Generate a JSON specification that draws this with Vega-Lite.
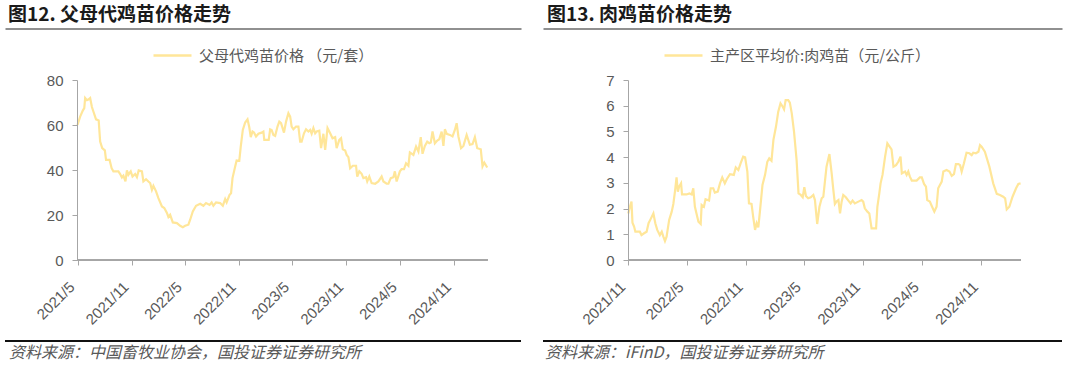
{
  "$schema": "https://vega.github.io/schema/vega-lite/v6.json",
  "padding": 5,
  "config": {
    "view": {"stroke": null},
    "font": "Liberation Sans",
    "axis": {"grid": false, "title": null}
  },
  "datasets": {
    "left": [
      {"date": "2021/05/01", "value": 60.0}, {"date": "2021/05/10", "value": 63.7}, {"date": "2021/05/19", "value": 66.4}, {"date": "2021/05/24", "value": 67.5}, {"date": "2021/05/27", "value": 72.0}, {"date": "2021/06/02", "value": 71.0}, {"date": "2021/06/07", "value": 71.3}, {"date": "2021/06/13", "value": 72.0}, {"date": "2021/06/19", "value": 68.0}, {"date": "2021/06/24", "value": 66.0}, {"date": "2021/07/03", "value": 62.5}, {"date": "2021/07/12", "value": 62.0}, {"date": "2021/07/17", "value": 52.6}, {"date": "2021/07/24", "value": 49.7}, {"date": "2021/08/02", "value": 48.7}, {"date": "2021/08/06", "value": 44.5}, {"date": "2021/08/18", "value": 44.5}, {"date": "2021/08/25", "value": 40.8}, {"date": "2021/08/31", "value": 39.4}, {"date": "2021/09/17", "value": 39.4}, {"date": "2021/09/23", "value": 38.2}, {"date": "2021/09/29", "value": 36.7}, {"date": "2021/10/04", "value": 37.5}, {"date": "2021/10/11", "value": 34.9}, {"date": "2021/10/16", "value": 39.8}, {"date": "2021/10/21", "value": 37.9}, {"date": "2021/10/29", "value": 39.4}, {"date": "2021/11/04", "value": 37.1}, {"date": "2021/11/13", "value": 38.2}, {"date": "2021/11/19", "value": 36.8}, {"date": "2021/11/25", "value": 39.8}, {"date": "2021/12/06", "value": 39.4}, {"date": "2021/12/11", "value": 34.9}, {"date": "2021/12/20", "value": 35.9}, {"date": "2021/12/28", "value": 34.9},
      {"date": "2022/01/03", "value": 34.2}, {"date": "2022/01/09", "value": 31.2}, {"date": "2022/01/14", "value": 33.0}, {"date": "2022/01/23", "value": 30.5}, {"date": "2022/01/31", "value": 27.5}, {"date": "2022/02/12", "value": 23.8}, {"date": "2022/02/20", "value": 23.1}, {"date": "2022/03/01", "value": 20.9}, {"date": "2022/03/06", "value": 19.1}, {"date": "2022/03/12", "value": 20.1}, {"date": "2022/03/21", "value": 16.7}, {"date": "2022/04/04", "value": 16.4}, {"date": "2022/04/15", "value": 15.2}, {"date": "2022/04/24", "value": 14.6}, {"date": "2022/05/02", "value": 15.2}, {"date": "2022/05/13", "value": 15.7}, {"date": "2022/05/19", "value": 17.9}, {"date": "2022/05/28", "value": 21.6}, {"date": "2022/06/08", "value": 24.1}, {"date": "2022/06/22", "value": 25.0}, {"date": "2022/07/03", "value": 24.1}, {"date": "2022/07/12", "value": 25.3}, {"date": "2022/07/24", "value": 24.5}, {"date": "2022/07/31", "value": 25.6}, {"date": "2022/08/06", "value": 24.1}, {"date": "2022/08/15", "value": 25.6}, {"date": "2022/08/29", "value": 25.3}, {"date": "2022/09/07", "value": 24.1}, {"date": "2022/09/15", "value": 27.1}, {"date": "2022/09/20", "value": 25.6}, {"date": "2022/09/30", "value": 29.0}, {"date": "2022/10/05", "value": 29.7}, {"date": "2022/10/10", "value": 36.4}, {"date": "2022/10/19", "value": 41.6}, {"date": "2022/10/24", "value": 44.2}, {"date": "2022/11/02", "value": 44.1}, {"date": "2022/11/07", "value": 50.4}, {"date": "2022/11/14", "value": 57.8}, {"date": "2022/11/22", "value": 61.1}, {"date": "2022/11/30", "value": 62.5}, {"date": "2022/12/06", "value": 59.0}, {"date": "2022/12/11", "value": 54.6}, {"date": "2022/12/17", "value": 57.1}, {"date": "2022/12/22", "value": 56.7}, {"date": "2022/12/29", "value": 54.9},
      {"date": "2023/01/06", "value": 56.1}, {"date": "2023/01/17", "value": 56.6}, {"date": "2023/01/23", "value": 57.1}, {"date": "2023/01/26", "value": 53.4}, {"date": "2023/02/03", "value": 53.4}, {"date": "2023/02/10", "value": 53.4}, {"date": "2023/02/15", "value": 58.1}, {"date": "2023/02/20", "value": 57.8}, {"date": "2023/02/26", "value": 55.6}, {"date": "2023/03/04", "value": 55.2}, {"date": "2023/03/12", "value": 59.3}, {"date": "2023/03/18", "value": 61.5}, {"date": "2023/03/24", "value": 60.8}, {"date": "2023/04/03", "value": 56.6}, {"date": "2023/04/10", "value": 61.5}, {"date": "2023/04/18", "value": 65.2}, {"date": "2023/04/24", "value": 63.7}, {"date": "2023/04/29", "value": 59.3}, {"date": "2023/05/05", "value": 58.1}, {"date": "2023/05/14", "value": 59.3}, {"date": "2023/05/22", "value": 59.3}, {"date": "2023/05/28", "value": 52.6}, {"date": "2023/06/02", "value": 52.6}, {"date": "2023/06/10", "value": 56.3}, {"date": "2023/06/17", "value": 58.1}, {"date": "2023/06/25", "value": 57.1}, {"date": "2023/07/01", "value": 57.8}, {"date": "2023/07/06", "value": 56.1}, {"date": "2023/07/12", "value": 58.6}, {"date": "2023/07/18", "value": 56.3}, {"date": "2023/07/23", "value": 57.1}, {"date": "2023/08/01", "value": 57.5}, {"date": "2023/08/07", "value": 49.7}, {"date": "2023/08/15", "value": 56.1}, {"date": "2023/08/21", "value": 48.9}, {"date": "2023/08/29", "value": 58.6}, {"date": "2023/09/07", "value": 56.3}, {"date": "2023/09/15", "value": 54.1}, {"date": "2023/09/24", "value": 54.6}, {"date": "2023/09/29", "value": 49.7}, {"date": "2023/10/08", "value": 53.4}, {"date": "2023/10/14", "value": 54.1}, {"date": "2023/10/20", "value": 49.2}, {"date": "2023/10/28", "value": 48.7}, {"date": "2023/11/02", "value": 46.7}, {"date": "2023/11/08", "value": 45.7}, {"date": "2023/11/14", "value": 40.8}, {"date": "2023/11/23", "value": 41.9}, {"date": "2023/12/04", "value": 41.9}, {"date": "2023/12/08", "value": 37.1}, {"date": "2023/12/15", "value": 39.4}, {"date": "2023/12/23", "value": 38.3}, {"date": "2023/12/29", "value": 36.4},
      {"date": "2024/01/07", "value": 36.8}, {"date": "2024/01/11", "value": 34.9}, {"date": "2024/01/18", "value": 37.1}, {"date": "2024/01/26", "value": 34.2}, {"date": "2024/02/07", "value": 33.9}, {"date": "2024/02/18", "value": 34.9}, {"date": "2024/02/29", "value": 37.1}, {"date": "2024/03/06", "value": 34.9}, {"date": "2024/03/17", "value": 33.9}, {"date": "2024/03/23", "value": 33.9}, {"date": "2024/03/31", "value": 36.4}, {"date": "2024/04/09", "value": 36.8}, {"date": "2024/04/14", "value": 39.4}, {"date": "2024/04/20", "value": 34.9}, {"date": "2024/05/01", "value": 39.4}, {"date": "2024/05/07", "value": 40.4}, {"date": "2024/05/15", "value": 40.4}, {"date": "2024/05/22", "value": 43.0}, {"date": "2024/05/30", "value": 41.9}, {"date": "2024/06/04", "value": 47.8}, {"date": "2024/06/16", "value": 46.7}, {"date": "2024/06/25", "value": 50.4}, {"date": "2024/07/03", "value": 48.2}, {"date": "2024/07/11", "value": 54.6}, {"date": "2024/07/17", "value": 47.2}, {"date": "2024/07/25", "value": 50.7}, {"date": "2024/08/02", "value": 52.6}, {"date": "2024/08/09", "value": 51.9}, {"date": "2024/08/14", "value": 52.2}, {"date": "2024/08/20", "value": 57.1}, {"date": "2024/08/28", "value": 51.9}, {"date": "2024/09/05", "value": 53.1}, {"date": "2024/09/12", "value": 53.7}, {"date": "2024/09/20", "value": 57.1}, {"date": "2024/09/26", "value": 50.7}, {"date": "2024/10/01", "value": 58.1}, {"date": "2024/10/07", "value": 56.1}, {"date": "2024/10/18", "value": 55.6}, {"date": "2024/10/27", "value": 54.9}, {"date": "2024/11/04", "value": 57.8}, {"date": "2024/11/10", "value": 60.8}, {"date": "2024/11/16", "value": 54.9}, {"date": "2024/11/25", "value": 49.7}, {"date": "2024/12/03", "value": 50.7}, {"date": "2024/12/14", "value": 55.6}, {"date": "2024/12/25", "value": 51.2},
      {"date": "2025/01/03", "value": 51.5}, {"date": "2025/01/11", "value": 54.6}, {"date": "2025/01/19", "value": 49.7}, {"date": "2025/01/31", "value": 49.2}, {"date": "2025/02/06", "value": 41.6}, {"date": "2025/02/12", "value": 43.3}, {"date": "2025/02/22", "value": 41.1}
    ],
    "right": [
      {"date": "2021/11/01", "value": 1.81}, {"date": "2021/11/06", "value": 2.07}, {"date": "2021/11/11", "value": 2.27}, {"date": "2021/11/14", "value": 1.45}, {"date": "2021/11/19", "value": 1.30}, {"date": "2021/11/23", "value": 1.10}, {"date": "2021/12/02", "value": 1.10}, {"date": "2021/12/07", "value": 1.10}, {"date": "2021/12/12", "value": 0.97}, {"date": "2021/12/20", "value": 1.04}, {"date": "2021/12/28", "value": 1.10},
      {"date": "2022/01/03", "value": 1.43}, {"date": "2022/01/09", "value": 1.58}, {"date": "2022/01/18", "value": 1.81}, {"date": "2022/01/24", "value": 1.43}, {"date": "2022/01/30", "value": 1.17}, {"date": "2022/02/07", "value": 0.97}, {"date": "2022/02/13", "value": 1.10}, {"date": "2022/02/18", "value": 0.91}, {"date": "2022/02/23", "value": 0.74}, {"date": "2022/02/28", "value": 0.91}, {"date": "2022/03/08", "value": 1.56}, {"date": "2022/03/16", "value": 1.88}, {"date": "2022/03/21", "value": 2.18}, {"date": "2022/03/26", "value": 2.66}, {"date": "2022/03/31", "value": 3.21}, {"date": "2022/04/04", "value": 2.66}, {"date": "2022/04/08", "value": 2.85}, {"date": "2022/04/14", "value": 2.98}, {"date": "2022/04/17", "value": 2.55}, {"date": "2022/05/01", "value": 2.55}, {"date": "2022/05/10", "value": 2.59}, {"date": "2022/05/17", "value": 2.55}, {"date": "2022/05/22", "value": 2.79}, {"date": "2022/05/27", "value": 2.07}, {"date": "2022/06/07", "value": 1.49}, {"date": "2022/06/14", "value": 1.40}, {"date": "2022/06/17", "value": 2.14}, {"date": "2022/06/24", "value": 2.07}, {"date": "2022/06/29", "value": 2.36}, {"date": "2022/07/10", "value": 2.31}, {"date": "2022/07/15", "value": 2.79}, {"date": "2022/07/23", "value": 2.79}, {"date": "2022/07/28", "value": 2.62}, {"date": "2022/08/06", "value": 2.66}, {"date": "2022/08/13", "value": 2.98}, {"date": "2022/08/20", "value": 3.21}, {"date": "2022/08/28", "value": 2.98}, {"date": "2022/09/03", "value": 3.14}, {"date": "2022/09/13", "value": 3.34}, {"date": "2022/09/25", "value": 3.31}, {"date": "2022/10/01", "value": 3.60}, {"date": "2022/10/09", "value": 3.50}, {"date": "2022/10/16", "value": 3.76}, {"date": "2022/10/24", "value": 4.02}, {"date": "2022/10/30", "value": 3.99}, {"date": "2022/11/06", "value": 3.44}, {"date": "2022/11/11", "value": 2.20}, {"date": "2022/11/19", "value": 2.18}, {"date": "2022/11/24", "value": 1.69}, {"date": "2022/11/30", "value": 1.17}, {"date": "2022/12/05", "value": 1.43}, {"date": "2022/12/10", "value": 1.27}, {"date": "2022/12/15", "value": 1.88}, {"date": "2022/12/23", "value": 2.92}, {"date": "2022/12/31", "value": 3.31},
      {"date": "2023/01/07", "value": 3.82}, {"date": "2023/01/13", "value": 3.95}, {"date": "2023/01/20", "value": 3.86}, {"date": "2023/01/26", "value": 4.67}, {"date": "2023/02/03", "value": 5.19}, {"date": "2023/02/10", "value": 5.77}, {"date": "2023/02/17", "value": 6.09}, {"date": "2023/02/24", "value": 5.96}, {"date": "2023/02/28", "value": 5.86}, {"date": "2023/03/05", "value": 6.22}, {"date": "2023/03/13", "value": 6.22}, {"date": "2023/03/18", "value": 6.12}, {"date": "2023/03/24", "value": 5.70}, {"date": "2023/03/31", "value": 4.99}, {"date": "2023/04/08", "value": 3.89}, {"date": "2023/04/14", "value": 2.59}, {"date": "2023/04/21", "value": 2.53}, {"date": "2023/04/27", "value": 2.44}, {"date": "2023/05/02", "value": 2.83}, {"date": "2023/05/07", "value": 2.49}, {"date": "2023/05/14", "value": 2.40}, {"date": "2023/05/22", "value": 2.44}, {"date": "2023/05/30", "value": 2.53}, {"date": "2023/06/04", "value": 2.33}, {"date": "2023/06/11", "value": 1.40}, {"date": "2023/06/18", "value": 2.07}, {"date": "2023/06/25", "value": 2.40}, {"date": "2023/06/30", "value": 2.46}, {"date": "2023/07/05", "value": 3.05}, {"date": "2023/07/10", "value": 3.63}, {"date": "2023/07/19", "value": 4.12}, {"date": "2023/07/26", "value": 3.37}, {"date": "2023/07/31", "value": 2.75}, {"date": "2023/08/05", "value": 2.18}, {"date": "2023/08/10", "value": 2.27}, {"date": "2023/08/16", "value": 2.33}, {"date": "2023/08/21", "value": 1.81}, {"date": "2023/08/26", "value": 2.27}, {"date": "2023/08/31", "value": 2.53}, {"date": "2023/09/08", "value": 2.44}, {"date": "2023/09/16", "value": 2.31}, {"date": "2023/09/23", "value": 2.20}, {"date": "2023/09/29", "value": 2.31}, {"date": "2023/10/06", "value": 2.20}, {"date": "2023/10/17", "value": 2.27}, {"date": "2023/10/27", "value": 2.33}, {"date": "2023/11/01", "value": 2.27}, {"date": "2023/11/06", "value": 2.01}, {"date": "2023/11/14", "value": 1.88}, {"date": "2023/11/20", "value": 1.81}, {"date": "2023/11/27", "value": 1.23}, {"date": "2023/12/11", "value": 1.23}, {"date": "2023/12/15", "value": 2.07}, {"date": "2023/12/21", "value": 2.59}, {"date": "2023/12/25", "value": 2.98}, {"date": "2023/12/31", "value": 3.31},
      {"date": "2024/01/08", "value": 4.02}, {"date": "2024/01/15", "value": 4.54}, {"date": "2024/01/21", "value": 4.43}, {"date": "2024/01/28", "value": 4.30}, {"date": "2024/02/03", "value": 3.63}, {"date": "2024/02/11", "value": 3.69}, {"date": "2024/02/18", "value": 3.82}, {"date": "2024/02/25", "value": 4.02}, {"date": "2024/02/29", "value": 3.37}, {"date": "2024/03/10", "value": 3.44}, {"date": "2024/03/15", "value": 3.31}, {"date": "2024/03/20", "value": 3.44}, {"date": "2024/03/25", "value": 3.24}, {"date": "2024/03/31", "value": 3.09}, {"date": "2024/04/15", "value": 3.09}, {"date": "2024/04/25", "value": 3.21}, {"date": "2024/05/01", "value": 3.21}, {"date": "2024/05/08", "value": 2.96}, {"date": "2024/05/14", "value": 2.85}, {"date": "2024/05/18", "value": 2.33}, {"date": "2024/05/26", "value": 2.27}, {"date": "2024/06/01", "value": 2.10}, {"date": "2024/06/09", "value": 1.88}, {"date": "2024/06/16", "value": 2.07}, {"date": "2024/06/21", "value": 2.79}, {"date": "2024/07/02", "value": 3.05}, {"date": "2024/07/07", "value": 3.44}, {"date": "2024/07/17", "value": 3.50}, {"date": "2024/07/26", "value": 3.44}, {"date": "2024/08/02", "value": 3.27}, {"date": "2024/08/09", "value": 3.34}, {"date": "2024/08/15", "value": 3.73}, {"date": "2024/08/23", "value": 3.73}, {"date": "2024/08/28", "value": 3.69}, {"date": "2024/09/02", "value": 3.44}, {"date": "2024/09/09", "value": 3.76}, {"date": "2024/09/17", "value": 4.17}, {"date": "2024/09/26", "value": 4.15}, {"date": "2024/10/03", "value": 4.08}, {"date": "2024/10/08", "value": 4.17}, {"date": "2024/10/16", "value": 4.15}, {"date": "2024/10/24", "value": 4.21}, {"date": "2024/10/29", "value": 4.47}, {"date": "2024/11/03", "value": 4.41}, {"date": "2024/11/13", "value": 4.21}, {"date": "2024/11/27", "value": 3.63}, {"date": "2024/12/09", "value": 2.98}, {"date": "2024/12/20", "value": 2.57}, {"date": "2024/12/30", "value": 2.53},
      {"date": "2025/01/09", "value": 2.46}, {"date": "2025/01/15", "value": 2.40}, {"date": "2025/01/20", "value": 1.97}, {"date": "2025/01/28", "value": 2.07}, {"date": "2025/02/07", "value": 2.46}, {"date": "2025/02/18", "value": 2.79}, {"date": "2025/02/25", "value": 2.96}, {"date": "2025/03/04", "value": 2.98}
    ]
  },
  "columns": 2,
  "bounds": "flush",
  "spacing": {"row": 80, "column": 22},
  "resolve": {"scale": {"color": "independent"}, "legend": {"color": "independent"}},
  "concat": [
    {
      "width": 516,
      "height": 180,
      "title": {"text": "图12. 父母代鸡苗价格走势", "anchor": "start", "frame": "group", "orient": "top", "font": "Noto Sans CJK SC", "fontSize": 19, "fontWeight": "bold", "color": "#1a1a1a", "offset": 4, "dx": 3},
      "data": {"name": "left"},
      "resolve": {"axis": {"x": "independent"}},
      "layer": [
        {
          "mark": {"type": "rule", "color": "#a6a6a6", "strokeWidth": 1},
          "encoding": {
            "x": {"datum": {"year": 2021, "month": 5, "date": 1}, "type": "temporal", "axis": {"orient": "top", "offset": 51.5, "labels": false, "ticks": false, "domain": true, "domainColor": "#6b6b6b", "domainWidth": 1.5, "grid": false, "title": null}},
            "x2": {"datum": {"year": 2025, "month": 2, "date": 22}},
            "y": {"datum": 0, "type": "quantitative", "axis": {"values": [0, 20, 40, 60, 80], "tickCount": 5, "offset": -72, "domain": true, "domainColor": "#a6a6a6", "ticks": true, "tickColor": "#a6a6a6", "tickSize": 5, "labels": true, "labelOverlap": false, "labelFontSize": 15, "labelColor": "#595959", "labelPadding": 9, "grid": false, "title": null, "zindex": 1}}
          }
        },
        {
          "mark": {"type": "line", "strokeWidth": 2.2, "interpolate": "linear"},
          "encoding": {
            "x": {
              "field": "date", "type": "temporal",
              "scale": {"domain": [{"year": 2020, "month": 8, "date": 27, "hours": 12}, {"year": 2025, "month": 6, "date": 16, "hours": 19}], "nice": false},
              "axis": {
                "values": [{"year": 2021, "month": 5, "date": 1}, {"year": 2021, "month": 11, "date": 1}, {"year": 2022, "month": 5, "date": 1}, {"year": 2022, "month": 11, "date": 1}, {"year": 2023, "month": 5, "date": 1}, {"year": 2023, "month": 11, "date": 1}, {"year": 2024, "month": 5, "date": 1}, {"year": 2024, "month": 11, "date": 1}],
                "tickCount": 8,
                "format": "%Y/%-m", "labelAngle": -45, "labelAlign": "right", "labelBaseline": "middle", "labelPadding": 19, "labelOffset": -6,
                "labelFontSize": 15, "labelColor": "#595959", "labelFont": "Liberation Sans", "labelOverlap": false, "labelFlush": false,
                "domain": false, "ticks": true, "tickSize": 5, "tickColor": "#a6a6a6", "grid": false, "title": null
              }
            },
            "y": {
              "field": "value", "type": "quantitative",
              "scale": {"domain": [0, 80], "nice": false},
              "axis": {"values": [0, 20, 40, 60, 80], "tickCount": 5, "offset": -72, "domain": true, "domainColor": "#a6a6a6", "ticks": true, "tickColor": "#a6a6a6", "tickSize": 5, "labels": true, "labelOverlap": false, "labelFontSize": 15, "labelColor": "#595959", "labelPadding": 9, "grid": false, "title": null, "zindex": 1}
            },
            "color": {
              "datum": "父母代鸡苗价格 （元/套）",
              "scale": {"range": ["#FFE699"]},
              "legend": {"orient": "none", "legendX": 147, "legendY": -45, "title": null, "symbolType": "stroke", "symbolSize": 1444, "symbolStrokeWidth": 2.5, "labelFontSize": 15, "labelFont": "Noto Sans CJK SC", "labelColor": "#595959", "labelOffset": 6, "labelLimit": 0, "padding": 0}
            }
          }
        }
      ]
    },
    {
      "width": 519,
      "height": 180,
      "title": {"text": "图13. 肉鸡苗价格走势", "anchor": "start", "frame": "group", "orient": "top", "font": "Noto Sans CJK SC", "fontSize": 19, "fontWeight": "bold", "color": "#1a1a1a", "offset": 4, "dx": 4},
      "data": {"name": "right"},
      "resolve": {"axis": {"x": "independent"}},
      "layer": [
        {
          "mark": {"type": "rule", "color": "#a6a6a6", "strokeWidth": 1},
          "encoding": {
            "x": {"datum": {"year": 2021, "month": 11, "date": 1}, "type": "temporal", "axis": {"orient": "top", "offset": 51.5, "labels": false, "ticks": false, "domain": true, "domainColor": "#6b6b6b", "domainWidth": 1.5, "grid": false, "title": null}},
            "x2": {"datum": {"year": 2025, "month": 3, "date": 4}},
            "y": {"datum": 0, "type": "quantitative", "axis": {"values": [0, 1, 2, 3, 4, 5, 6, 7], "tickCount": 8, "offset": -85, "domain": true, "domainColor": "#a6a6a6", "ticks": true, "tickColor": "#a6a6a6", "tickSize": 5, "labels": true, "labelOverlap": false, "labelFontSize": 15, "labelColor": "#595959", "labelPadding": 9, "grid": false, "title": null, "zindex": 1}}
          }
        },
        {
          "mark": {"type": "line", "strokeWidth": 2.2, "interpolate": "linear"},
          "encoding": {
            "x": {
              "field": "date", "type": "temporal",
              "scale": {"domain": [{"year": 2021, "month": 2, "date": 9}, {"year": 2025, "month": 7, "date": 10, "hours": 17}], "nice": false},
              "axis": {
                "values": [{"year": 2021, "month": 11, "date": 1}, {"year": 2022, "month": 5, "date": 1}, {"year": 2022, "month": 11, "date": 1}, {"year": 2023, "month": 5, "date": 1}, {"year": 2023, "month": 11, "date": 1}, {"year": 2024, "month": 5, "date": 1}, {"year": 2024, "month": 11, "date": 1}],
                "tickCount": 7,
                "format": "%Y/%-m", "labelAngle": -45, "labelAlign": "right", "labelBaseline": "middle", "labelPadding": 19, "labelOffset": -6,
                "labelFontSize": 15, "labelColor": "#595959", "labelFont": "Liberation Sans", "labelOverlap": false, "labelFlush": false,
                "domain": false, "ticks": true, "tickSize": 5, "tickColor": "#a6a6a6", "grid": false, "title": null
              }
            },
            "y": {
              "field": "value", "type": "quantitative",
              "scale": {"domain": [0, 7], "nice": false},
              "axis": {"values": [0, 1, 2, 3, 4, 5, 6, 7], "tickCount": 8, "offset": -85, "domain": true, "domainColor": "#a6a6a6", "ticks": true, "tickColor": "#a6a6a6", "tickSize": 5, "labels": true, "labelOverlap": false, "labelFontSize": 15, "labelColor": "#595959", "labelPadding": 9, "grid": false, "title": null, "zindex": 1}
            },
            "color": {
              "datum": "主产区平均价:肉鸡苗（元/公斤）",
              "scale": {"range": ["#FFE699"]},
              "legend": {"orient": "none", "legendX": 120, "legendY": -45, "title": null, "symbolType": "stroke", "symbolSize": 1444, "symbolStrokeWidth": 2.5, "labelFontSize": 15, "labelFont": "Noto Sans CJK SC", "labelColor": "#595959", "labelOffset": 6, "labelLimit": 0, "padding": 0}
            }
          }
        }
      ]
    },
    {
      "width": 516,
      "height": 2,
      "view": {"fill": "#111111", "stroke": null},
      "data": {"values": []},
      "mark": "point",
      "title": {"text": "资料来源：中国畜牧业协会，国投证券证券研究所", "orient": "bottom", "anchor": "start", "frame": "group", "font": "Noto Sans CJK SC", "fontSize": 16, "fontStyle": "italic", "fontWeight": "normal", "color": "#595959", "offset": 3, "dx": 4}
    },
    {
      "width": 519,
      "height": 2,
      "view": {"fill": "#111111", "stroke": null},
      "data": {"values": []},
      "mark": "point",
      "title": {"text": "资料来源：iFinD，国投证券证券研究所", "orient": "bottom", "anchor": "start", "frame": "group", "font": "Noto Sans CJK SC", "fontSize": 16, "fontStyle": "italic", "fontWeight": "normal", "color": "#595959", "offset": 3, "dx": 2}
    }
  ]
}
